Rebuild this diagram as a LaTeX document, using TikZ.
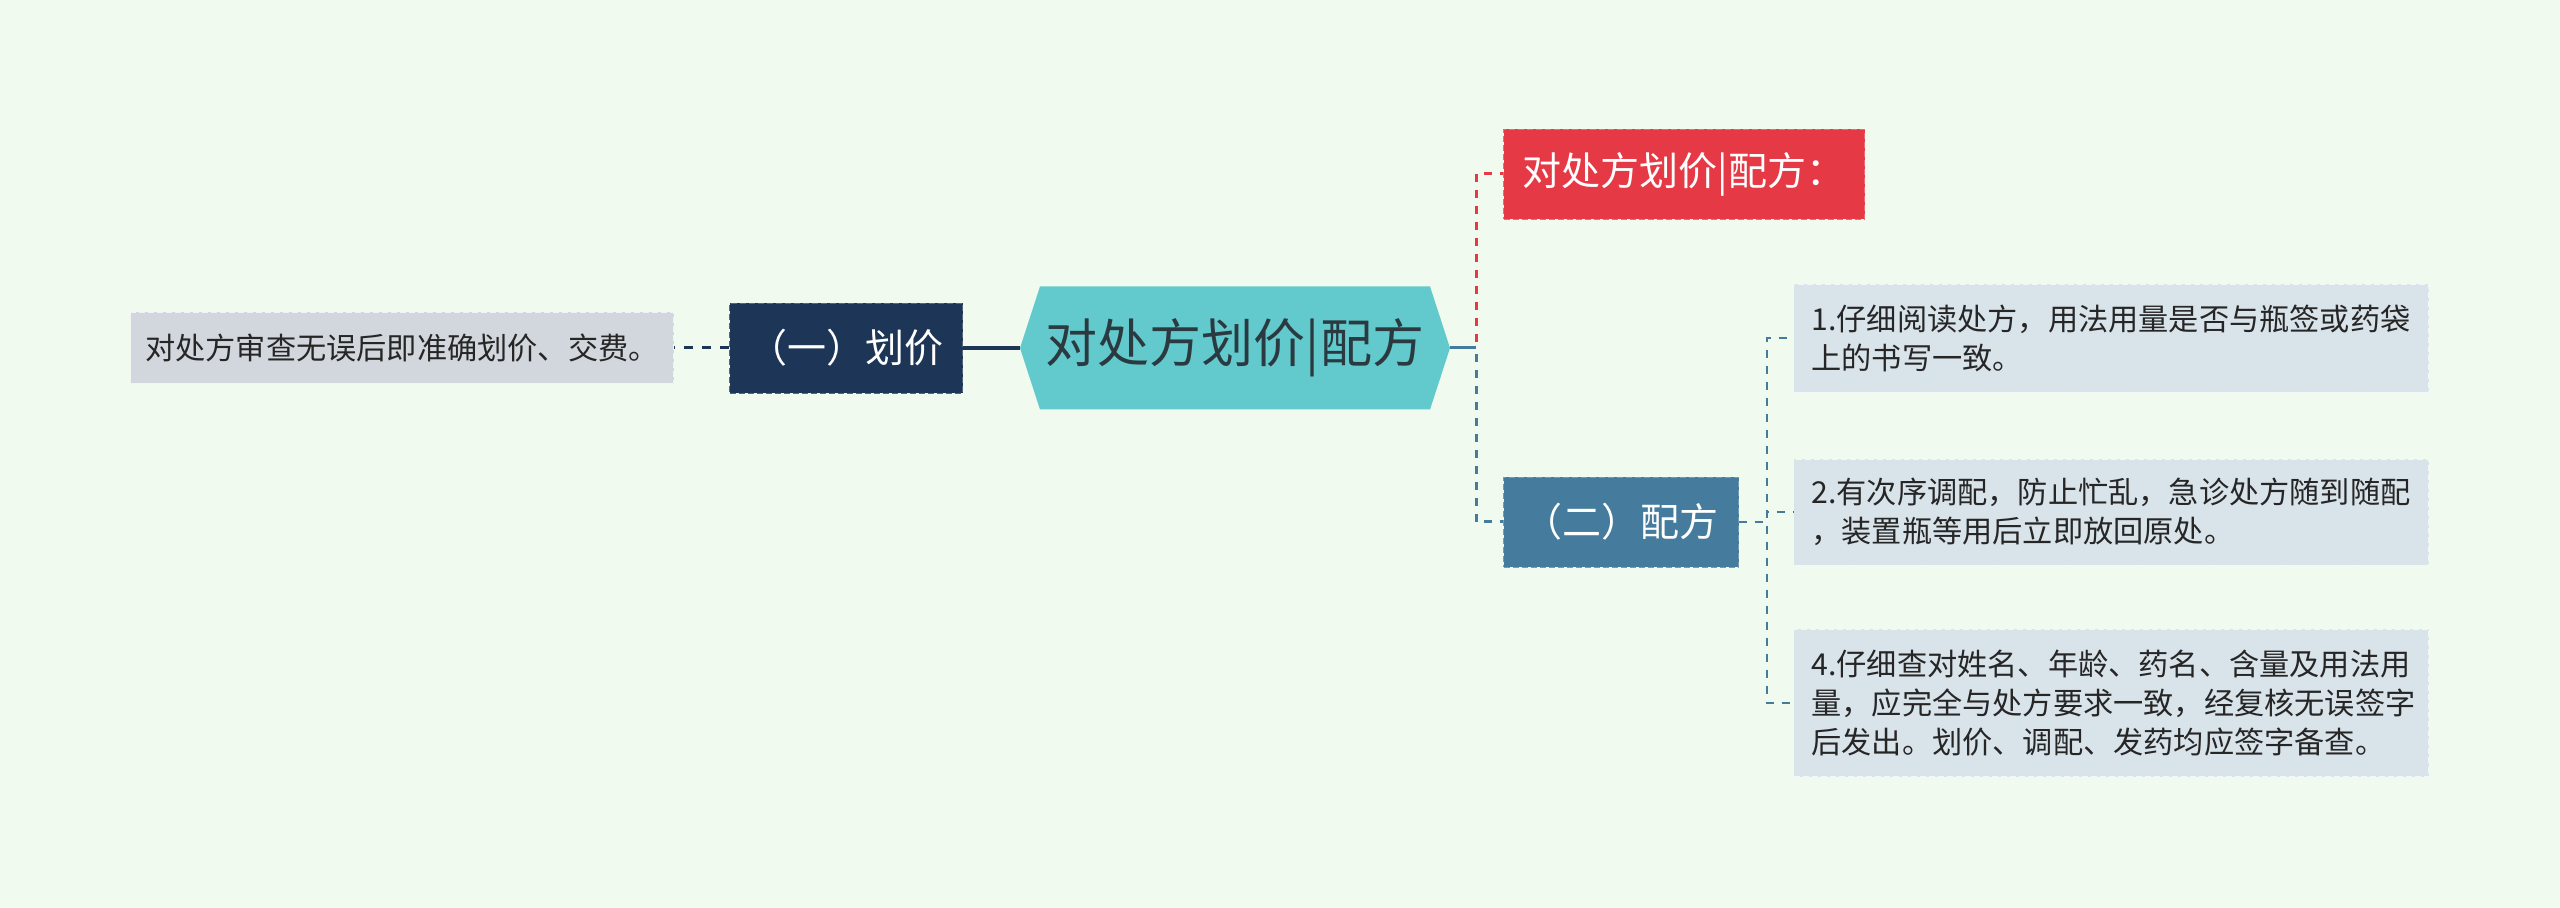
\documentclass[tikz,border=0pt]{standalone}
\usepackage{fontspec}
\setmainfont{Noto Sans CJK SC}
\usepackage{xcolor}
\usetikzlibrary{arrows.meta, positioning, shapes.symbols}

\definecolor{bgmint}{HTML}{F0FAEF}
\definecolor{navy}{HTML}{1D3557}
\definecolor{rosered}{HTML}{E63946}
\definecolor{steel}{HTML}{457B9D}
\definecolor{tealroot}{HTML}{62C9CC}
\definecolor{leafgray}{HTML}{D2D7DD}
\definecolor{leafblue}{HTML}{D9E3EA}
\definecolor{inkdark}{HTML}{2B3A40}

\begin{document}
\begin{tikzpicture}[x=0.5pt, y=-0.5pt,
  rootbox/.style={shape=signal, signal to=west and east, signal pointer angle=144,
    fill=tealroot, text=inkdark, minimum width=215pt, minimum height=61.5pt,
    inner sep=0pt, font=\fontsize{26}{30}\selectfont},
  catbox/.style={draw=#1!75!white, fill=#1, dash pattern=on 3pt off 1.5pt,
    text=white, minimum height=45pt, inner sep=0pt, font=\fontsize{19.5}{23}\selectfont},
  leafbox/.style={draw=white!70!#1, fill=#1, dash pattern=on 3pt off 1.5pt,
    text=black!85, inner sep=0pt, font=\fontsize{15.1}{19.5}\selectfont},
  noteleaf/.style={leafbox=leafblue, text width=299.5pt, align=left, inner xsep=9pt},
  navylink/.style={navy, line width=1.5pt, dash pattern=on 4.5pt off 4.5pt},
  redlink/.style={rosered, line width=1.5pt, dash pattern=on 4pt off 4pt},
  steellink/.style={steel, line width=1.5pt, dash pattern=on 4pt off 4pt},
  thinlink/.style={steel, line width=1pt, dash pattern=on 4pt off 4pt}]
  \fill[bgmint] (0,0) rectangle (2560,908);
  \useasboundingbox (0,0) rectangle (2560,908);

  \node[rootbox] (root) at (1235,348) {对处方划价|配方};
  \node[catbox=navy, minimum width=116.5pt] (cat1) at (846,348) {（一）划价};
  \node[leafbox=leafgray, minimum width=271.5pt, minimum height=35.5pt] (leafL) at (402,348) {对处方审查无误后即准确划价、交费。};
  \node[catbox=rosered, minimum width=180.5pt] (note) at (1684,174) {对处方划价|配方：};
  \node[catbox=steel, minimum width=117.5pt] (cat2) at (1621,522) {（二）配方};

  \node[noteleaf, minimum height=54pt] (leaf1) at (2111,338) {1.仔细阅读处方，用法用量是否与瓶签或药袋\\上的书写一致。};
  \node[noteleaf, minimum height=53pt] (leaf2) at (2111,512) {2.有次序调配，防止忙乱，急诊处方随到随配\\，装置瓶等用后立即放回原处。};
  \node[noteleaf, minimum height=73.5pt] (leaf4) at (2111,703) {4.仔细查对姓名、年龄、药名、含量及用法用\\量，应完全与处方要求一致，经复核无误签字\\后发出。划价、调配、发药均应签字备查。};

  \draw[navylink] (cat1.west) -- (leafL.east);
  \draw[navy, line width=2pt] (root.west) -- (cat1.east);
  \draw[redlink] (root.east) -- ++(26,0) |- (note.west);
  \draw[steellink] (root.east) -- ++(26,0) |- (cat2.west);
  \draw[steel, line width=1.5pt] (root.east) -- ++(26,0);
  \foreach \leaf in {leaf1, leaf2, leaf4}
    \draw[thinlink] (cat2.east) -- ++(28,0) |- (\leaf.west);
\end{tikzpicture}
\end{document}
